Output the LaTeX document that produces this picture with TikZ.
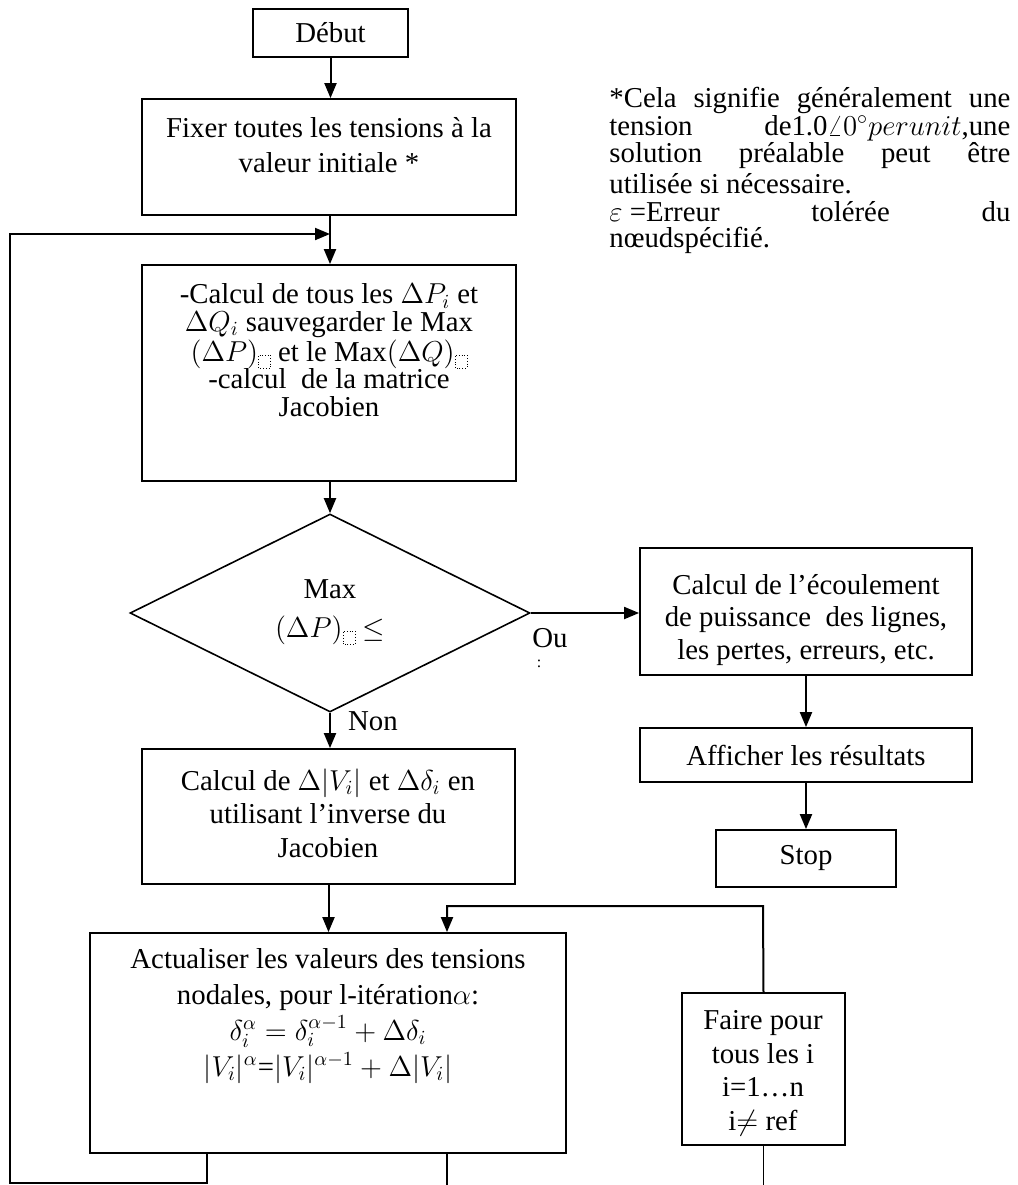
\documentclass[tikz,border=0pt]{standalone}
\usepackage{fontspec}
\setmainfont{Liberation Serif}
\usetikzlibrary{arrows.meta,shapes.geometric,fit}

\tikzset{
  box/.style={draw, line width=0.9pt, inner sep=0pt},
  txt/.style={align=center, inner sep=0pt},
  arr/.style={line width=1pt, -{Triangle[length=7.5pt,width=6pt]}},
  link/.style={line width=0.8pt},
  note/.style={anchor=west, inner sep=0pt},
}

% placeholder glyph box (character missing from the font)
\newcommand{\nbox}{\tikz[baseline=0pt]\draw[densely dotted,line width=0.4pt] (0pt,0pt) rectangle (6pt,6.5pt);}
\newcommand{\nline}[1]{\hbox to 200.5pt{#1}}
\newcommand{\fs}[1]{\fontsize{14.4pt}{#1}\selectfont}

\begin{document}
\fs{16.5pt}
\begin{tikzpicture}[x=0.5pt,y=-0.5pt]
\useasboundingbox (0,0) rectangle (1018,1185);

% boxes
\node[box, fit={(253,9) (408,57)}] (debut) {};
\node[box, fit={(142,99) (516,215)}] (fixer) {};
\node[box, fit={(142,265) (516,481)}] (calc1) {};
\node[draw, line width=0.8pt, diamond, minimum width=200pt, minimum height=99pt, inner sep=0pt] (dec) at (330,613) {};
\node[box, fit={(640,548) (972,675)}] (ecoul) {};
\node[box, fit={(640,728) (972,782)}] (affich) {};
\node[box, fit={(716,830) (896,887)}] (stop) {};
\node[box, fit={(142,749) (515,884)}] (calc2) {};
\node[box, fit={(90,933) (566,1153)}] (act) {};
\node[box, fit={(682,993) (845,1145)}] (faire) {};

% texts
\node[txt] (tdebut) at (debut) {Début};
\node[txt, font=\fs{17.5pt}] (tfixer) at (329,145) {Fixer toutes les tensions à la\\valeur initiale *};
\node[txt, font=\fs{13.75pt}] (tcalc1) at (329,350) {-Calcul de tous les $\Delta P_i$ et\\
$\Delta Q_i$ sauvegarder le Max\\
$(\Delta P)$\raisebox{-3.5pt}{\nbox} et le Max$(\Delta Q)$\raisebox{-3.5pt}{\nbox}\\
-calcul\ \ de la matrice\\
Jacobien};
\node[txt, font=\fs{19.5pt}] (tdec) at (330,612) {Max\\$(\Delta P)$\raisebox{-3.5pt}{\nbox}\ $\leq$};
\node[txt] (tou) at (550,638) {Ou};
\node[txt, font=\fontsize{8pt}{9pt}\selectfont] (tcol) at (539,664) {:};
\node[txt] (tnon) at (373,721) {Non};
\node[txt, font=\fs{16.25pt}] (tecoul) at (806,620) {Calcul de l’écoulement\\de puissance\ \ des lignes,\\les pertes, erreurs, etc.};
\node[txt] (taffich) at (affich) {Afficher les résultats};
\node[txt] (tstop) at (stop) {Stop};
\node[txt, font=\fs{16.75pt}] (tcalc2) at (328,813) {Calcul de $\Delta|V_i|$ et $\Delta\delta_i$ en\\utilisant l’inverse du\\Jacobien};
\node[txt, font=\fs{18pt}] (tact) at (328,1016) {Actualiser les valeurs des tensions\\
nodales, pour l-itération$\alpha$:\\
$\delta_i^\alpha = \delta_i^{\alpha-1} + \Delta\delta_i$\\
$|V_i|^\alpha$=$|V_i|^{\alpha-1} + \Delta|V_i|$};
\node[txt, font=\fs{16.75pt}] (tfaire) at (763,1073) {Faire pour\\tous les i\\i=1…n\\i$\neq$ ref};

% side note
\node[note] (n1) at (609,100) {\nline{*Cela\hfill signifie\hfill généralement\hfill une}};
\node[note] (n2) at (609,128) {\nline{tension\hfill de1.0$\angle 0^\circ perunit$,une}};
\node[note] (n3) at (609,156) {\nline{solution\hfill préalable\hfill peut\hfill être}};
\node[note] (n4) at (609,184) {utilisée si nécessaire.};
\node[note] (n5) at (609,212) {\nline{$\varepsilon$ =Erreur\hfill tolérée\hfill du}};
\node[note] (n6) at (609,240) {nœudspécifié.};

% connectors
\coordinate (l1) at (207,1183);
\coordinate (l2) at (10,1183);
\coordinate (l3) at (10,234);
\coordinate (f1) at (763,906);
\coordinate (f2) at (447,906);
\coordinate (bot) at (0,1185);

\draw[arr] (debut.south) -- (debut.south |- fixer.north);
\draw[arr] (fixer.south -| dec.north) -- (calc1.north -| dec.north);
\draw[arr] (l1 |- act.south) -- (l1) -- (l2) -- (l3) -- (l3 -| dec.north);
\draw[arr] (calc1.south -| dec.north) -- (dec.north);
\draw[arr] (dec.east) -- (dec.east -| ecoul.west);
\draw[arr] (ecoul.south -| stop.north) -- (affich.north -| stop.north);
\draw[arr] (affich.south -| stop.north) -- (stop.north);
\draw[arr] (dec.south) -- (dec.south |- calc2.north);
\draw[arr] (calc2.south) -- (calc2.south |- act.north);
\draw[arr] (faire.north) -- (f1) -- (f2) -- (f2 |- act.north);
\draw[link] (faire.south) -- (faire.south |- bot);
\draw[link] (f2 |- act.south) -- (f2 |- bot);
\end{tikzpicture}
\end{document}
